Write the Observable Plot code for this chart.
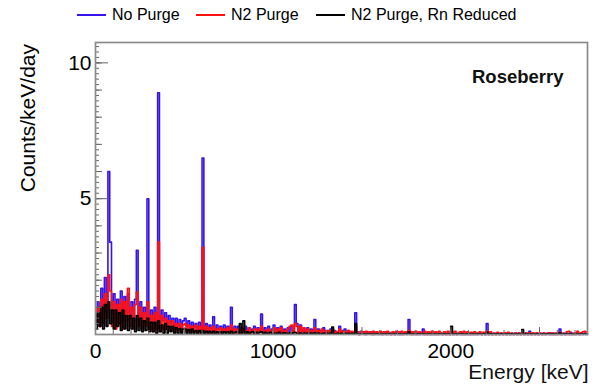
<!DOCTYPE html>
<html>
<head>
<meta charset="utf-8">
<script src="https://cdn.jsdelivr.net/npm/d3@7"></script>
<script src="https://cdn.jsdelivr.net/npm/@observablehq/plot@0.6"></script>
<style>
  html, body { margin: 0; padding: 0; background: #fff; }
  #wrap { position: relative; width: 605px; height: 390px; font-family: "Liberation Sans", Arial, Helvetica, sans-serif; }
  .leg { position: absolute; top: 5px; font-size: 16px; line-height: 20px; color: #000; white-space: nowrap; }
  .sw { display: inline-block; width: 29px; height: 2px; vertical-align: middle; margin-right: 6px; position: relative; top: -1px; }
  #ylab { position: absolute; left: 27px; top: 44px; font-size: 21px; line-height: 1; white-space: nowrap;
          transform-origin: 0 0; transform: rotate(-90deg) translate(-100%, -50%); }
</style>
</head>
<body>
<div id="wrap"></div>
<script>
// ---- data (Counts/keV/day in 10 keV bins, starting at 0 keV) ----
const binWidth = 10;
const seriesNames = ["No Purge", "N2 Purge", "N2 Purge, Rn Reduced"];
const seriesColors = ["#3514ec", "#ff1010", "#000000"];

const noPurge = [
  0.4, 1.2, 0.6, 1.7, 0.9, 2.1, 1.0, 6.0, 3.4, 0.8,
  1.5, 0.6, 1.3, 0.7, 1.6, 0.5, 1.4, 0.8, 1.5, 0.6,
  1.2, 0.5, 1.3, 3.1, 0.6, 1.2, 0.5, 1.0, 0.6, 5.0,
  0.5, 0.9, 0.4, 1.0, 0.5, 8.9, 0.4, 0.9, 0.5, 0.8,
  0.3, 0.7, 0.4, 0.6, 0.3, 0.6, 0.3, 0.55, 0.25, 0.5,
  0.6, 0.3, 0.5, 0.2, 0.45, 0.25, 0.4, 0.2, 0.45, 0.2,
  6.5, 0.2, 0.4, 0.15, 0.35, 0.2, 0.65, 0.15, 0.35, 0.2,
  0.3, 0.1, 0.35, 0.15, 0.3, 0.1, 1.0, 0.15, 0.3, 0.1,
  0.3, 0.15, 0.25, 0.1, 0.3, 0.15, 0.25, 0.1, 0.2, 0.3,
  0.1, 0.25, 0.15, 0.75, 0.1, 0.25, 0.1, 0.3, 0.1, 0.2,
  0.35, 0.1, 0.25, 0.05, 0.3, 0.1, 0.2, 0.05, 0.25, 0.1,
  0.3, 0.15, 1.1, 0.4, 0.1, 0.35, 0.1, 0.2, 0.05, 0.25,
  0.1, 0.2, 0.05, 0.55, 0.1, 0.2, 0.05, 0.15, 0.25, 0.05,
  0.15, 0.05, 0.2, 0.05, 0.15, 0.05, 0.1, 0.3, 0.05, 0.15,
  0.2, 0.05, 0.15, 0.05, 0.1, 0.05, 0.8, 0.1, 0, 0.1,
  0.05, 0.1, 0, 0.08, 0.05, 0.1, 0, 0.08, 0.05, 0,
  0.08, 0, 0.05, 0.1, 0, 0.05, 0, 0.08, 0, 0.05,
  0, 0.08, 0, 0.05, 0.08, 0, 0.55, 0.05, 0, 0.08,
  0, 0.05, 0, 0.06, 0.2, 0, 0.05, 0, 0.04, 0,
  0.05, 0, 0.04, 0, 0.05, 0, 0.04, 0, 0.05, 0,
  0.04, 0, 0.05, 0, 0.04, 0, 0.05, 0, 0.04, 0,
  0.05, 0, 0.04, 0, 0.05, 0, 0.04, 0, 0.05, 0,
  0.4, 0, 0.05, 0, 0.04, 0, 0.05, 0, 0.04, 0,
  0.04, 0, 0.05, 0, 0.04, 0, 0.05, 0, 0.04, 0,
  0.04, 0, 0.05, 0, 0.12, 0, 0.04, 0, 0.05, 0,
  0.04, 0, 0.05, 0, 0.04, 0, 0.05, 0, 0.04, 0,
  0.05, 0.2, 0, 0.04, 0, 0.05, 0, 0.08, 0, 0.04,
  0, 0.05, 0, 0.04, 0, 0.05, 0
];

const n2Purge = [
  0.5, 1.0, 0.3, 1.3, 0.4, 1.5, 0.6, 2.2, 1.6, 0.3,
  1.2, 0.2, 1.1, 0.4, 1.3, 0.2, 1.2, 0.5, 1.7, 0.3,
  1.0, 0.2, 1.1, 1.56, 0.3, 1.0, 0.2, 0.8, 0.3, 1.2,
  0.2, 0.7, 0.1, 0.8, 0.2, 3.4, 0.1, 0.7, 0.2, 0.6,
  0.1, 0.5, 0.15, 0.5, 0.1, 0.4, 0.15, 0.4, 0.1, 0.35,
  0.4, 0.1, 0.35, 0.05, 0.3, 0.1, 0.35, 0.05, 0.3, 0.1,
  3.2, 0.05, 0.3, 0.1, 0.25, 0.05, 0.3, 0.1, 0.2, 0.05,
  0.25, 0.05, 0.2, 0.1, 0.25, 0.05, 0.35, 0.1, 0.2, 0.05,
  0.2, 0.05, 0.25, 0.1, 0.15, 0.05, 0.25, 0.05, 0.15, 0.2,
  0.05, 0.2, 0.1, 0.3, 0.05, 0.15, 0.05, 0.2, 0.1, 0.15,
  0.25, 0.05, 0.2, 0.1, 0.25, 0.05, 0.15, 0.05, 0.2, 0.3,
  0.35, 0.1, 0.4, 0.3, 0.05, 0.3, 0.1, 0.25, 0.05, 0.2,
  0.05, 0.15, 0.05, 0.25, 0.1, 0.15, 0.05, 0.2, 0.05, 0.15,
  0.05, 0.15, 0.05, 0.2, 0.05, 0.12, 0.05, 0.2, 0.05, 0.12,
  0.1, 0.05, 0.15, 0.05, 0.12, 0.05, 0.25, 0.05, 0, 0.12,
  0.1, 0, 0.12, 0.05, 0.1, 0, 0.12, 0, 0.1, 0.05,
  0.12, 0, 0.1, 0, 0.12, 0.05, 0, 0.1, 0, 0.12,
  0.1, 0, 0.12, 0, 0.1, 0.05, 0.15, 0, 0.1, 0,
  0.12, 0, 0.1, 0.05, 0, 0.12, 0, 0.1, 0, 0.12,
  0, 0.1, 0, 0.12, 0.05, 0, 0.1, 0, 0.12, 0,
  0.1, 0, 0.12, 0, 0.05, 0.1, 0, 0.12, 0, 0.1,
  0, 0.08, 0, 0.1, 0, 0.05, 0.1, 0, 0.08, 0,
  0.12, 0, 0.1, 0, 0.05, 0, 0.08, 0, 0.05, 0,
  0.06, 0, 0.08, 0, 0.05, 0, 0.04, 0, 0.06, 0,
  0.05, 0, 0.05, 0, 0.06, 0, 0.05, 0, 0.06, 0,
  0.04, 0, 0.05, 0, 0.04, 0.06, 0, 0.05, 0, 0.05,
  0, 0.08, 0, 0.04, 0, 0.1, 0.12, 0, 0.04, 0,
  0.05, 0.12, 0, 0.06, 0.1, 0.12, 0.08
];

const rnReduced = [
  0.2, 0.8, 0.3, 1.0, 0.2, 1.1, 0.3, 1.2, 0.4, 0.9,
  0.2, 0.9, 0.3, 0.8, 0.15, 0.9, 0.2, 0.7, 0.15, 0.7,
  0.2, 0.6, 0.1, 0.7, 0.15, 0.6, 0.1, 0.5, 0.15, 0.6,
  0.1, 0.45, 0.1, 0.45, 0.05, 0.5, 0.1, 0.35, 0.05, 0.4,
  0.05, 0.3, 0.1, 0.3, 0.05, 0.25, 0.05, 0.22, 0.05, 0.2,
  0.2, 0.05, 0.18, 0.02, 0.2, 0.05, 0.15, 0.02, 0.15, 0.05,
  0.15, 0.02, 0.12, 0.05, 0.12, 0.02, 0.12, 0.02, 0.1, 0.05,
  0.1, 0.02, 0.1, 0.05, 0.1, 0.02, 0.12, 0.02, 0.08, 0.1,
  0.02, 0.4, 0.05, 0.5, 0.02, 0.1, 0.02, 0.08, 0.1, 0.02,
  0.08, 0.02, 0.08, 0.1, 0.02, 0.08, 0.02, 0.05, 0.08, 0.02,
  0.05, 0.02, 0.05, 0.08, 0.02, 0.05, 0.06, 0.02, 0.04, 0.06,
  0.02, 0.06, 0.08, 0.02, 0.04, 0.05, 0.02, 0.05, 0.02, 0.05,
  0.02, 0.05, 0.02, 0.06, 0.02, 0.05, 0.02, 0.03, 0.05, 0.02,
  0.04, 0.02, 0.05, 0.27, 0.02, 0.03, 0.04, 0.02, 0.04, 0.02,
  0.04, 0.02, 0.04, 0.02, 0.04, 0.02, 0.4, 0.02, 0.02, 0.03,
  0.03, 0.02, 0.03, 0.02, 0.03, 0.02, 0.03, 0.02, 0.03, 0.02,
  0.03, 0.02, 0.02, 0.03, 0.02, 0.03, 0.02, 0.02, 0.03, 0.02,
  0.02, 0.03, 0.02, 0.02, 0.03, 0.02, 0.1, 0.02, 0.03, 0.02,
  0.02, 0.03, 0.02, 0.02, 0.03, 0.02, 0.02, 0.03, 0.02, 0.02,
  0.03, 0.02, 0.02, 0.03, 0.02, 0.02, 0.03, 0.02, 0.02, 0.03,
  0.3, 0.02, 0.02, 0.03, 0.02, 0.02, 0.03, 0.02, 0.02, 0.03,
  0.02, 0.02, 0.03, 0.02, 0.02, 0.03, 0.02, 0.02, 0.03, 0.02,
  0.08, 0.02, 0.03, 0.02, 0.02, 0.03, 0.02, 0.02, 0.03, 0.02,
  0.02, 0.03, 0.02, 0.02, 0.03, 0.02, 0.02, 0.03, 0.02, 0.02,
  0.18, 0.02, 0.03, 0.02, 0.02, 0.03, 0.02, 0.02, 0.03, 0.02,
  0.02, 0.03, 0.02, 0.02, 0.03, 0.02, 0.02, 0.03, 0.02, 0.02,
  0.03, 0.06, 0.02, 0.02, 0.03, 0.02, 0.02, 0.03, 0.02, 0.02,
  0.03, 0.02, 0.02, 0.03, 0.02, 0.02, 0.03
];

const xTickLabels = [0, 1000, 2000];
const yTickLabels = [5, 10];
const xDomain = [0, 2770];
const yDomain = [0, 10.75];
const xLabel = "Energy [keV]";
const yLabel = "Counts/keV/day";
const panelLabel = "Roseberry";

// ---- build histogram step points ----
function steps(values, name) {
  const pts = values.map((v, i) => ({ e: i * binWidth, v, s: name }));
  pts.push({ e: values.length * binWidth, v: values[values.length - 1], s: name });
  return pts;
}
const allSeries = [noPurge, n2Purge, rnReduced].map((vals, k) => steps(vals, seriesNames[k]));

const font = "Liberation Sans, Arial, Helvetica, sans-serif";
const tickStyle = { text: null, label: null, stroke: "#666", strokeWidth: 1 };

const chart = Plot.plot({
  width: 605,
  height: 390,
  marginLeft: 95,
  marginRight: 18,
  marginTop: 42,
  marginBottom: 56,
  style: { fontFamily: font, background: "#fff", color: "#000" },
  x: { domain: xDomain, axis: null },
  y: { domain: yDomain, axis: null },
  marks: [
    ...allSeries.map((d, k) => Plot.line(d, {
      x: "e", y: "v", curve: "step-after",
      stroke: seriesColors[k], strokeWidth: 1.6
    })),
    // y ticks (inward)
    Plot.axisY({ ticks: d3.range(0, 10.7, 0.2), tickSize: -4, ...tickStyle }),
    Plot.axisY({ ticks: d3.range(0, 11, 1), tickSize: -7, ...tickStyle }),
    Plot.axisY({ ticks: [0, 5, 10], tickSize: -13, ...tickStyle }),
    Plot.axisY({ ticks: yTickLabels, tickSize: 0, tickPadding: 4, fontSize: 21, label: null, tickFormat: d => String(d) }),
    // x ticks (inward)
    Plot.axisX({ ticks: d3.range(0, 2770, 100), tickSize: -4, ...tickStyle }),
    Plot.axisX({ ticks: d3.range(0, 2770, 500), tickSize: -7, ...tickStyle }),
    Plot.axisX({ ticks: xTickLabels, tickSize: 0, tickPadding: 9, fontSize: 21, label: null, tickFormat: d => String(d) }),
    Plot.frame({ stroke: "#8a8a8a", strokeWidth: 1.7 }),
    Plot.text([panelLabel], {
      text: d => d, frameAnchor: "top-right", dx: -24, dy: 27,
      textAnchor: "end", fontWeight: "bold", fontSize: 18.5, fill: "#111"
    }),
    Plot.text([xLabel], {
      text: d => d, frameAnchor: "bottom-right", dx: 1, dy: 44,
      textAnchor: "end", fontSize: 21, fill: "#111"
    })
  ]
});

const wrap = document.getElementById("wrap");
wrap.appendChild(chart);

// legend
const legendLefts = [77, 196, 316];
seriesNames.forEach((name, k) => {
  const item = document.createElement("div");
  item.className = "leg";
  item.style.left = legendLefts[k] + "px";
  const sw = document.createElement("span");
  sw.className = "sw";
  sw.style.background = seriesColors[k];
  item.appendChild(sw);
  item.appendChild(document.createTextNode(name));
  wrap.appendChild(item);
});

// y axis title
const yl = document.createElement("div");
yl.id = "ylab";
yl.textContent = yLabel;
wrap.appendChild(yl);
</script>
</body>
</html>
